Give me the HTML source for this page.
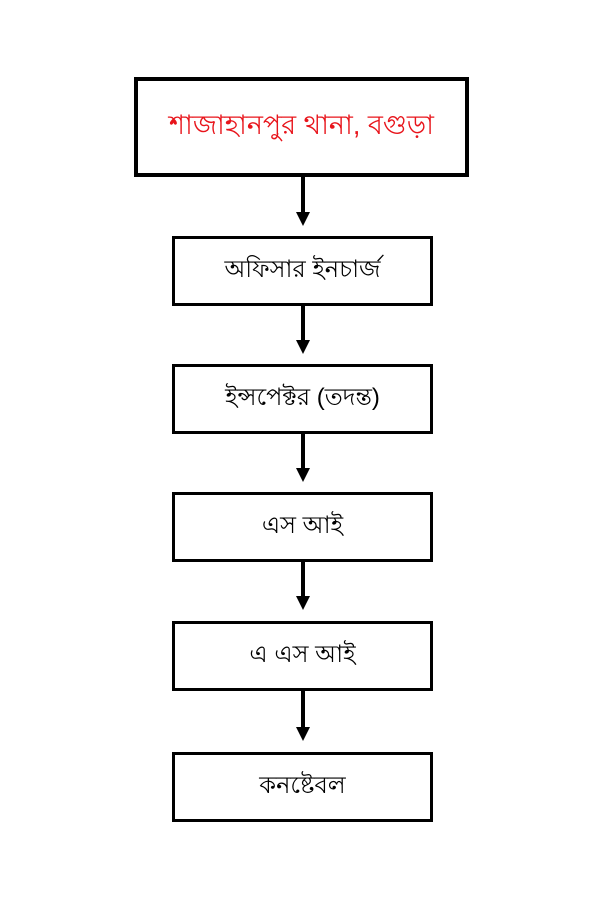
<!DOCTYPE html>
<html><head><meta charset="utf-8"><style>
html,body{margin:0;padding:0;background:#fff;width:600px;height:900px;overflow:hidden}
.box{position:absolute;box-sizing:border-box;border:3px solid #000;background:#fff;display:flex;align-items:center;justify-content:center;font-family:"Liberation Sans",sans-serif;font-size:24px;color:#000}
.top{left:134px;top:77px;width:335px;height:100px;border-width:4px;color:#e8141b;font-size:27px}
svg{position:absolute;left:0;top:0}
</style></head><body>
<svg width="600" height="900">
<g stroke="#000" stroke-width="4">
<line x1="303" y1="177" x2="303" y2="214"/>
<line x1="303" y1="305" x2="303" y2="342"/>
<line x1="303" y1="433" x2="303" y2="470"/>
<line x1="303" y1="561" x2="303" y2="598"/>
<line x1="303" y1="690" x2="303" y2="729"/>
</g>
<g fill="#000">
<polygon points="296,212 310,212 303,226"/>
<polygon points="296,340 310,340 303,354"/>
<polygon points="296,468 310,468 303,482"/>
<polygon points="296,596 310,596 303,610"/>
<polygon points="296,727 310,727 303,741"/>
</g>
</svg>
<div class="box top">শাজাহানপুর থানা, বগুড়া</div>
<div class="box" style="left:172px;top:236px;width:261px;height:70px">অফিসার ইনচার্জ</div>
<div class="box" style="left:172px;top:364px;width:261px;height:70px">ইন্সপেক্টর (তদন্ত)</div>
<div class="box" style="left:172px;top:492px;width:261px;height:70px">এস আই</div>
<div class="box" style="left:172px;top:621px;width:261px;height:70px">এ এস আই</div>
<div class="box" style="left:172px;top:752px;width:261px;height:70px">কনষ্টেবল</div>
</body></html>
